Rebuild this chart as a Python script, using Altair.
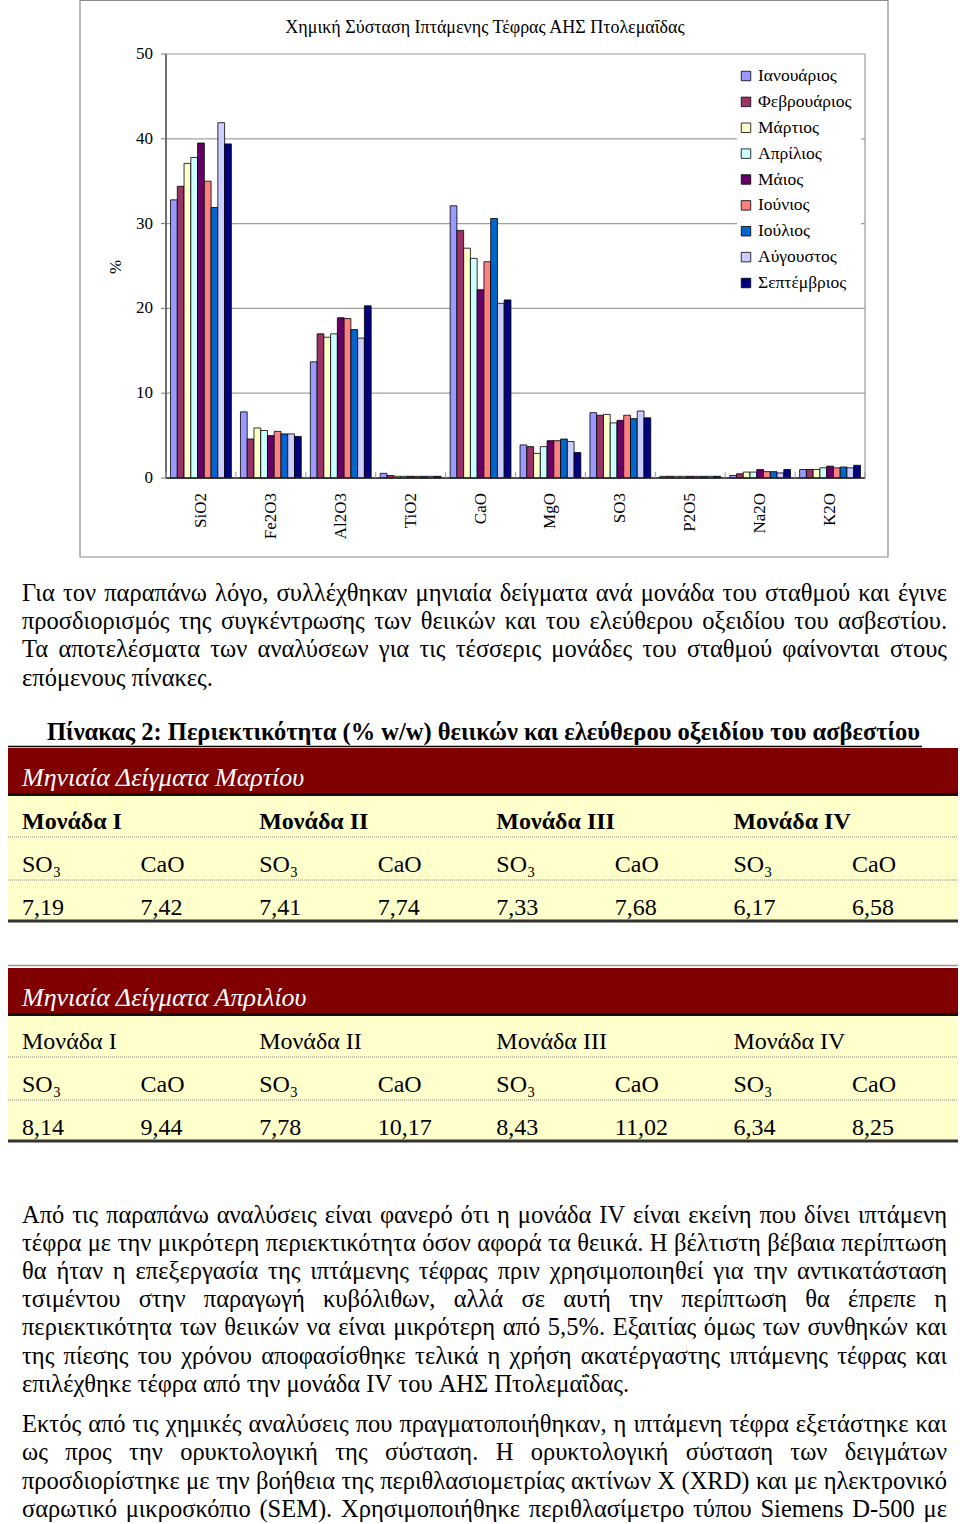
import altair as alt
import pandas as pd
import glob

# ---------------- data ----------------
oxides = ["SiO2", "Fe2O3", "Al2O3", "TiO2", "CaO", "MgO", "SO3", "P2O5", "Na2O", "K2O"]
months = ["Ιανουάριος", "Φεβρουάριος", "Μάρτιος", "Απρίλιος", "Μάιος",
          "Ιούνιος", "Ιούλιος", "Αύγουστος", "Σεπτέμβριος"]
month_colors = ["#9999FF", "#993366", "#FFFFCC", "#CCFFFF", "#660066",
                "#FF8080", "#0066CC", "#CCCCFF", "#000080"]

sio2 = [32.8, 34.4, 37.1, 37.8, 39.5, 35.0, 31.9, 41.9, 39.4]
fe2o3 = [7.8, 4.6, 5.9, 5.6, 5.0, 5.5, 5.2, 5.2, 4.9]
al2o3 = [13.7, 17.0, 16.6, 17.0, 18.9, 18.8, 17.5, 16.5, 20.3]
tio2 = [0.55, 0.3, 0.2, 0.2, 0.2, 0.2, 0.2, 0.2, 0.2]
cao = [32.1, 29.2, 27.1, 25.9, 22.2, 25.5, 30.6, 20.6, 21.0]
mgo = [3.9, 3.7, 2.9, 3.7, 4.4, 4.4, 4.6, 4.3, 3.0]
so3 = [7.7, 7.4, 7.5, 6.5, 6.8, 7.4, 7.0, 7.9, 7.1]
p2o5 = [0.2, 0.2, 0.2, 0.2, 0.2, 0.2, 0.2, 0.2, 0.2]
na2o = [0.3, 0.5, 0.7, 0.7, 1.0, 0.75, 0.75, 0.6, 1.0]
k2o = [1.0, 1.0, 1.0, 1.2, 1.4, 1.2, 1.3, 1.2, 1.5]
series = [sio2, fe2o3, al2o3, tio2, cao, mgo, so3, p2o5, na2o, k2o]

y_ticks = [0, 10, 20, 30, 40, 50]
chart_title = "Χημική Σύσταση Ιπτάμενης Τέφρας ΑΗΣ Πτολεμαΐδας"
y_title = "%"

para1 = [
    "Για τον παραπάνω λόγο, συλλέχθηκαν μηνιαία δείγματα ανά μονάδα του σταθμού και έγινε",
    "προσδιορισμός της συγκέντρωσης των θειικών και του ελεύθερου οξειδίου του ασβεστίου.",
    "Τα αποτελέσματα των αναλύσεων για τις τέσσερις μονάδες του σταθμού φαίνονται στους",
    "επόμενους πίνακες.",
]
caption = "Πίνακας 2: Περιεκτικότητα (% w/w) θειικών και ελεύθερου οξειδίου του ασβεστίου"

units = ["Μονάδα I", "Μονάδα II", "Μονάδα III", "Μονάδα IV"]
subheads = ["SO₃", "CaO", "SO₃", "CaO", "SO₃", "CaO", "SO₃", "CaO"]
table1_title = "Μηνιαία Δείγματα Μαρτίου"
table1_values = ["7,19", "7,42", "7,41", "7,74", "7,33", "7,68", "6,17", "6,58"]
table2_title = "Μηνιαία Δείγματα Απριλίου"
table2_values = ["8,14", "9,44", "7,78", "10,17", "8,43", "11,02", "6,34", "8,25"]

para2 = [
    "Από τις παραπάνω αναλύσεις είναι φανερό ότι η μονάδα IV είναι εκείνη που δίνει ιπτάμενη",
    "τέφρα με την μικρότερη περιεκτικότητα όσον αφορά τα θειικά. Η βέλτιστη βέβαια περίπτωση",
    "θα ήταν η επεξεργασία της ιπτάμενης τέφρας πριν χρησιμοποιηθεί για την αντικατάσταση",
    "τσιμέντου στην παραγωγή κυβόλιθων, αλλά σε αυτή την περίπτωση θα έπρεπε η",
    "περιεκτικότητα των θειικών να είναι μικρότερη από 5,5%. Εξαιτίας όμως των συνθηκών και",
    "της πίεσης του χρόνου αποφασίσθηκε τελικά η χρήση ακατέργαστης ιπτάμενης τέφρας και",
    "επιλέχθηκε τέφρα από την μονάδα IV του ΑΗΣ Πτολεμαΐδας.",
]
para3 = [
    "Εκτός από τις χημικές αναλύσεις που πραγματοποιήθηκαν, η ιπτάμενη τέφρα εξετάστηκε και",
    "ως προς την ορυκτολογική της σύσταση. Η ορυκτολογική σύσταση των δειγμάτων",
    "προσδιορίστηκε με την βοήθεια της περιθλασιομετρίας ακτίνων Χ (XRD) και με ηλεκτρονικό",
    "σαρωτικό μικροσκόπιο (SEM). Χρησιμοποιήθηκε περιθλασίμετρο τύπου Siemens D-500 με",
]
para3_ends_paragraph = False

# ---------------- layout ----------------
W, H = 960, 1524
SERIF = "Liberation Serif"
PL, PR, PT, PB = 166, 865, 54, 478      # plot area of the embedded chart
TEXT_L, TEXT_R = 22, 947                # justified text column
BODY = 24.5


def lin(domain, rng):
    return alt.Scale(domain=domain, range=rng, nice=False, zero=False)


def px(field):
    return alt.X(field, type="quantitative", scale=lin([0, W], [0, W]), axis=None)


def py(field):
    return alt.Y(field, type="quantitative", scale=lin([0, H], [0, H]), axis=None)


def box(x0, x1, y0, y1, fill=None, stroke=None, sw=1.0):
    df = pd.DataFrame({"x0": [x0], "x1": [x1], "y0": [y0], "y1": [y1]})
    kw = {}
    if fill:
        kw["fill"] = fill
    else:
        kw["fillOpacity"] = 0
    if stroke:
        kw["stroke"] = stroke
        kw["strokeWidth"] = sw
    return alt.Chart(df).mark_rect(**kw).encode(
        x=px("x0"), x2=alt.X2("x1"), y=py("y0"), y2=alt.Y2("y1"))


def hline(x0, x1, y, color="black", sw=1.0, dash=None):
    df = pd.DataFrame({"x0": [x0], "x1": [x1], "y0": [y]})
    kw = dict(color=color, strokeWidth=sw)
    if dash:
        kw["strokeDash"] = dash
    return alt.Chart(df).mark_rule(**kw).encode(x=px("x0"), x2=alt.X2("x1"), y=py("y0"))


def text_block(lines, x, y_first, step, size, weight="normal", style="normal",
               color="black", align="left", angle=0):
    df = pd.DataFrame({"t": lines, "i": list(range(len(lines)))})
    kw = dict(align=align, baseline="middle", font=SERIF, fontSize=size,
              fontWeight=weight, fontStyle=style, color=color)
    if angle:
        kw["angle"] = angle
    return alt.Chart(df).mark_text(**kw).encode(
        x=alt.value(x),
        y=alt.Y("i:Q", scale=lin([0, 1], [y_first, y_first + step]), axis=None),
        text="t:N")


def get_measure(size):
    try:
        from PIL import ImageFont
        paths = []
        for root in ("/usr/share/fonts", "/usr/local/share/fonts", "/usr/share/fonts/truetype"):
            paths += glob.glob(root + "/**/LiberationSerif-Regular.ttf", recursive=True)
        font = ImageFont.truetype(paths[0], size)
        return lambda s: font.getlength(s)
    except Exception:
        return None


def justified_block(lines, y_first, step, size, last_is_end=True):
    """Full-justified paragraph: every line but the paragraph's last is spread
    across the text column, like the word-processor original."""
    measure = get_measure(size)
    if measure is None:
        return text_block(lines, TEXT_L, y_first, step, size)
    recs = []
    n = len(lines)
    for i, line in enumerate(lines):
        words = line.split(" ")
        widths = [measure(w) for w in words]
        if (i == n - 1 and last_is_end) or len(words) == 1:
            gap = measure(" ")
        else:
            gap = (TEXT_R - TEXT_L - sum(widths)) / (len(words) - 1)
        x = TEXT_L
        for w, wd in zip(words, widths):
            recs.append({"t": w, "i": i, "x": x})
            x += wd + gap
    df = pd.DataFrame(recs)
    return alt.Chart(df).mark_text(align="left", baseline="middle", font=SERIF,
                                   fontSize=size, color="black").encode(
        x=px("x"),
        y=alt.Y("i:Q", scale=lin([0, 1], [y_first, y_first + step]), axis=None),
        text="t:N")


def table_row(items, y, size=24, weight="normal", cols=None):
    if cols is None:
        cols = list(range(len(items)))
    df = pd.DataFrame({"t": items, "c": cols})
    return alt.Chart(df).mark_text(align="left", baseline="middle", font=SERIF,
                                   fontSize=size, fontWeight=weight, color="black").encode(
        x=alt.X("c:Q", scale=lin([0, 7], [22, 852]), axis=None),
        y=alt.value(y), text="t:N")


layers = []

# ---------------- embedded bar chart ----------------
rows = []
for ox, vals in zip(oxides, series):
    for m, v in zip(months, vals):
        rows.append({"oxide": ox, "month": m, "value": v})
bars_df = pd.DataFrame(rows)

xband = alt.Scale(domain=oxides, range=[PL, PR], paddingInner=0.13, paddingOuter=0.065)
yval = lin([0, 50], [PB, PT])
cscale = alt.Scale(domain=months, range=month_colors)

layers.append(box(80, 888, 0.5, 557, fill="white", stroke="#8c8c8c", sw=1.2))
layers.append(box(PL, PR, PT, PB, fill="white", stroke="#9a9a9a", sw=1.2))

grid_df = pd.DataFrame({"v": y_ticks[1:-1]})
layers.append(alt.Chart(grid_df).mark_rule(color="#a0a0a0", strokeWidth=1.2).encode(
    y=alt.Y("v:Q", scale=yval, axis=None), x=alt.value(PL), x2=alt.value(PR)))

layers.append(box(737, 861, 62, 296, fill="white"))

layers.append(alt.Chart(bars_df).mark_bar(stroke="black", strokeWidth=0.8).encode(
    x=alt.X("oxide:N", sort=oxides, scale=xband, axis=None),
    xOffset=alt.XOffset("month:N", sort=months,
                        scale=alt.Scale(domain=months, paddingInner=0, paddingOuter=0)),
    y=alt.Y("value:Q", scale=yval, axis=None),
    color=alt.Color("month:N", scale=cscale, legend=None)))

# axis lines and ticks
layers.append(hline(PL, PR, PB, color="#222222", sw=1.3))
layers.append(alt.Chart(pd.DataFrame({"v": [0]})).mark_rule(color="#444444", strokeWidth=1.3).encode(
    x=alt.value(PL), y=alt.value(PT), y2=alt.value(PB)))
ytick_df = pd.DataFrame({"v": y_ticks})
layers.append(alt.Chart(ytick_df).mark_rule(color="#777777", strokeWidth=1).encode(
    y=alt.Y("v:Q", scale=yval, axis=None), x=alt.value(PL - 5), x2=alt.value(PL)))
bound_df = pd.DataFrame({"b": list(range(len(oxides) + 1))})
layers.append(alt.Chart(bound_df).mark_rule(color="#999999", strokeWidth=1).encode(
    x=alt.X("b:Q", scale=lin([0, len(oxides)], [PL, PR]), axis=None),
    y=alt.value(PB - 6), y2=alt.value(PB)))

# tick labels
layers.append(alt.Chart(ytick_df).mark_text(align="right", baseline="middle", font=SERIF,
                                            fontSize=17, color="black").encode(
    y=alt.Y("v:Q", scale=yval, axis=None), x=alt.value(153), text="v:Q"))
layers.append(alt.Chart(pd.DataFrame({"oxide": oxides})).mark_text(
    align="right", baseline="middle", angle=270, font=SERIF, fontSize=17, color="black").encode(
    x=alt.X("oxide:N", sort=oxides, scale=xband, axis=None, bandPosition=0.5),
    y=alt.value(493), text="oxide:N"))

layers.append(text_block([chart_title], 485, 28, 28, 18, align="center"))
layers.append(text_block([y_title], 116, 267, 28, 17, align="center", angle=270))

# legend
leg_df = pd.DataFrame({"month": months, "i": list(range(len(months)))})
leg_y = alt.Y("i:Q", scale=lin([0, len(months) - 1], [76, 283]), axis=None)
layers.append(alt.Chart(leg_df).mark_square(size=90, stroke="black", strokeWidth=0.8, opacity=1).encode(
    x=alt.value(746), y=leg_y, color=alt.Color("month:N", scale=cscale, legend=None)))
layers.append(alt.Chart(leg_df).mark_text(align="left", baseline="middle", font=SERIF,
                                          fontSize=17.5, color="black").encode(
    x=alt.value(758), y=leg_y, text="month:N"))

# ---------------- page text ----------------
layers.append(justified_block(para1, 593.5, 28.45, BODY))
layers.append(text_block([caption], 47, 733, 28, 24.5, weight="bold"))
layers.append(hline(8, 922, 746.5, color="black", sw=1.5))


def table(y_top, title, values, bold_units):
    out = []
    out.append(box(8, 958, y_top, y_top + 46, fill="#800000"))
    out.append(hline(8, 958, y_top + 46.5, color="#111111", sw=3))
    out.append(box(8, 958, y_top + 48, y_top + 173, fill="#FFFFCC"))
    out.append(hline(8, 958, y_top + 89, color="#888888", sw=1, dash=[1, 1]))
    out.append(hline(8, 958, y_top + 132, color="#888888", sw=1, dash=[1, 1]))
    out.append(hline(8, 958, y_top + 173, color="#333333", sw=3))
    out.append(text_block([title], 22, y_top + 30, 28, 26, style="italic", color="white"))
    out.append(table_row(units, y_top + 74, weight="bold" if bold_units else "normal",
                         cols=[0, 2, 4, 6]))
    out.append(table_row(subheads, y_top + 117))
    out.append(table_row(values, y_top + 160))
    return out


layers += table(748, table1_title, table1_values, True)
layers.append(hline(8, 958, 965.5, color="#999999", sw=1.5))
layers += table(968, table2_title, table2_values, False)

layers.append(justified_block(para2, 1215.5, 28.2, BODY))
layers.append(justified_block(para3, 1425, 28.3, BODY, last_is_end=para3_ends_paragraph))

chart = alt.layer(*layers).resolve_scale(
    x="independent", y="independent", color="independent"
).properties(
    width=W, height=H, padding=0, background="white",
    autosize=alt.AutoSizeParams(type="none")
).configure_view(stroke=None)

chart.save("out.html", embed_options={"renderer": "svg", "actions": False})
